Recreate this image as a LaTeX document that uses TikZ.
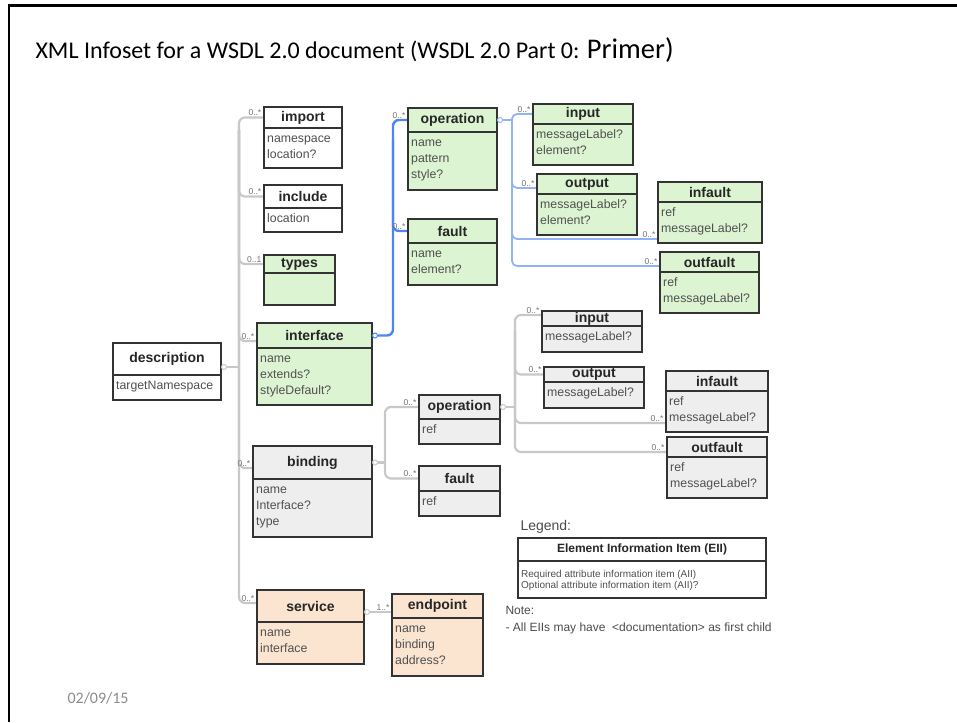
\documentclass[tikz,border=0pt]{standalone}
\usepackage{fontspec}
\setmainfont{Liberation Sans}
\newfontfamily\calib{Carlito}
\usetikzlibrary{calc}
\definecolor{grn}{HTML}{DDF4D2}
\definecolor{gry}{HTML}{EEEEEE}
\definecolor{pch}{HTML}{FBE5D1}
\definecolor{conng}{HTML}{C8C8C8}
\definecolor{connb}{HTML}{4A86F5}
\definecolor{connlb}{HTML}{92B4F6}
\definecolor{edge}{HTML}{333333}
\definecolor{attrc}{HTML}{505050}
\pgfdeclarelayer{bg}
\pgfsetlayers{bg,main}
\tikzset{
 hbox/.style={draw=edge, line width=1.1pt, inner sep=0pt, outer sep=0pt, font=\fontsize{14}{15}\selectfont\bfseries, text=black!85},
 bbox/.style={draw=edge, line width=1.1pt, inner sep=0pt, outer sep=0pt},
 attr/.style={inner xsep=3pt, inner ysep=3.5pt, align=left, font=\fontsize{12.3}{16}\selectfont, text=attrc},
 mult/.style={inner sep=0.5pt, font=\fontsize{8.5}{9}\selectfont, text=black!55},
 gline/.style={draw=conng, line width=2.2pt, rounded corners=6pt},
 bline/.style={draw=connb, line width=2.4pt, rounded corners=6pt},
 lbline/.style={draw=connlb, line width=1.8pt, rounded corners=5pt},
 ocirc/.style={circle, draw, fill=white, line width=1pt, inner sep=0pt, minimum size=5pt},
}
\newcommand{\ebox}[9]{%
 \node[hbox, fill=#7, minimum width=#4, minimum height={#5-#3}, anchor=north west] (#1) at (#2,#3) {#8};
 \node[bbox, fill=#7, minimum width=#4, minimum height={#6-#5}, anchor=north west] (#1b) at (#1.south west) {};
 \node[attr, anchor=north west] (#1t) at (#1b.north west) {\strut#9};
}
\begin{document}
\begin{tikzpicture}[x=1pt,y=-1pt]
\useasboundingbox (0,0) rectangle (957,722);
\begin{pgfonlayer}{bg}
\fill[white] (0,0) rectangle (957,722);
\end{pgfonlayer}
\draw[line width=2.5pt] (9,722) -- (9,5.5) -- (957,5.5);
\node[anchor=west, font=\calib\fontsize{24}{28}\selectfont] (title) at (32,50) {XML Infoset for a WSDL 2.0 document (WSDL 2.0 Part 0: {\fontsize{28.5}{32}\selectfont Primer)}};
\node[anchor=west, font=\calib\fontsize{16}{18}\selectfont, text=black!45] (date) at (64,698) {02/09/15};

% boxes
\ebox{imp}{264}{107}{78}{128}{168}{white}{import}{namespace\\location?}
\ebox{inc}{264}{185}{78}{208}{232}{white}{include}{location}
\ebox{typ}{264}{255}{71}{273}{305}{grn}{types}{}
\ebox{ifc}{257}{323}{115}{348}{405}{grn}{interface}{name\\extends?\\styleDefault?}
\ebox{desc}{113}{343}{108}{375}{400}{white}{description}{targetNamespace}
\ebox{bnd}{253}{446}{119}{479}{537}{gry}{binding}{name\\Interface?\\type}
\ebox{svc}{257}{590}{107}{622}{664}{pch}{service}{name\\interface}
\ebox{ept}{392}{594}{91}{618}{676}{pch}{endpoint}{name\\binding\\address?}
\ebox{opa}{408}{108}{89}{132}{190}{grn}{operation}{name\\pattern\\style?}
\ebox{fla}{408}{219}{89}{243}{285}{grn}{fault}{name\\element?}
\ebox{ina}{533}{104}{100}{124}{165}{grn}{input}{messageLabel?\\element?}
\ebox{outa}{537}{174}{100}{194}{235}{grn}{output}{messageLabel?\\element?}
\ebox{ifla}{658}{182}{104}{202}{243}{grn}{infault}{ref\\messageLabel?}
\ebox{ofla}{660}{252}{99}{272}{313}{grn}{outfault}{ref\\messageLabel?}
\ebox{opb}{419}{395}{81}{419}{444}{gry}{operation}{ref}
\ebox{flb}{419}{466}{81}{491}{516}{gry}{fault}{ref}
\ebox{inb}{542}{311}{100}{326}{352}{gry}{input}{messageLabel?}
\ebox{outb}{544}{367}{100}{382}{408}{gry}{output}{messageLabel?}
\ebox{iflb}{666}{371}{102}{391}{432}{gry}{infault}{ref\\messageLabel?}
\ebox{oflb}{667}{437}{100}{457}{498}{gry}{outfault}{ref\\messageLabel?}

% legend
\node[anchor=west, font=\fontsize{14}{16}\selectfont, text=black!70] (lgl) at (517,527) {Legend:};
\node[hbox, fill=white, minimum width=248, minimum height=23, anchor=north west, font=\fontsize{12}{14}\selectfont\bfseries] (lgh) at (518,538) {Element Information Item (EII)};
\node[bbox, fill=white, minimum width=248, minimum height=37, anchor=north west] (lgb) at (lgh.south west) {};
\node[attr, anchor=north west, font=\fontsize{10}{11}\selectfont, inner ysep=3pt] (lgt) at ([yshift=-6pt]lgb.north west) {\strut Required attribute information item (AII)\\Optional attribute information item (AII)?};
\node[anchor=west, font=\fontsize{12}{14}\selectfont, text=black!70] (note) at (502,610) {Note:};
\node[anchor=west, font=\fontsize{12}{14}\selectfont, text=black!70] (note2) at (502,628) {- All EIIs may have\ \ <documentation> as first child};

% circles
\node[ocirc, draw=conng] (dc) at ([xshift=3pt,yshift=-8pt]desc.east) {};
\node[ocirc, draw=connb] (ic) at ([xshift=3pt]ifc.east) {};
\node[ocirc, draw=connlb] (oc1) at ([xshift=3pt]opa.east) {};
\node[ocirc, draw=conng] (bc) at ([xshift=3pt]bnd.east) {};
\node[ocirc, draw=conng] (pc) at ([xshift=3pt]opb.east) {};
\node[ocirc, draw=conng] (sc) at ([xshift=3pt,yshift=-6pt]svc.east) {};

% coordinates
\coordinate (gx) at (239,0);
\coordinate (g0) at (239,130);
\coordinate (svcp) at ([yshift=3pt]svc.west);
\coordinate (ifcp) at ([yshift=-5.5pt]ifc.west);
\coordinate (bndp) at ([yshift=-5.5pt]bnd.west);
\coordinate (bx) at (393,0);
\coordinate (b0) at (393,140);
\coordinate (lx) at (512,0);
\coordinate (l0) at (512,125);
\coordinate (outap) at ([yshift=-4pt]outa.west);
\coordinate (iflap) at ([yshift=4pt]iflab.south west);
\coordinate (oflap) at ([yshift=-4pt]ofla.west);
\coordinate (hx) at (385,0);
\coordinate (px) at (515,0);
\coordinate (p0) at (515,330);
\coordinate (inbp) at ([yshift=3.5pt]inb.west);
\coordinate (iflbp) at ([yshift=9pt]iflbb.south west);
\coordinate (oflbp) at ([yshift=-5pt]oflb.west);
\coordinate (eptp) at (ept.west |- sc.east);

\begin{pgfonlayer}{bg}
\draw[gline] (imp.west) -| (gx |- svcp) -- (svcp);
\draw[gline] (g0) |- (inc.west);
\draw[gline] (g0) |- (typ.west);
\draw[gline] (g0) |- (ifcp);
\draw[gline] (g0) |- (bndp);
\draw[gline] (dc.east) -- (gx |- dc.east);
\draw[bline] (ic.east) -| (bx |- opa.west) -- (opa.west);
\draw[bline] (b0) |- (fla.west);
\draw[lbline] (ina.west) -| (lx |- oflap) -- (oflap);
\draw[lbline] (oc1.east) -- (lx |- oc1.east);
\draw[lbline] (l0) |- (outap);
\draw[lbline] (l0) |- (iflap);
\draw[gline] (opb.west) -| (hx |- flb.west) -- (flb.west);
\draw[gline] (bc.east) -- (hx |- bc.east);
\draw[gline] (inbp) -| (px |- oflbp) -- (oflbp);
\draw[gline] (p0) |- (outb.west);
\draw[gline] (p0) |- (iflbp);
\draw[gline] (pc.east) -- (px |- pc.east);
\draw[gline] (sc.east) -- (eptp);
\end{pgfonlayer}

% multiplicities
\node[mult, anchor=south east] (m1) at ([xshift=-2pt,yshift=1pt]imp.west) {0..*};
\node[mult, anchor=south east] (m2) at ([xshift=-2pt,yshift=1pt]inc.west) {0..*};
\node[mult, anchor=south east] (m3) at ([xshift=-2pt,yshift=1pt]typ.west) {0..1};
\node[mult, anchor=south east] (m4) at ([xshift=-2pt,yshift=1pt]ifcp) {0..*};
\node[mult, anchor=south east] (m5) at ([xshift=-2pt,yshift=1pt]bndp) {0..*};
\node[mult, anchor=south east] (m6) at ([xshift=-2pt,yshift=1pt]svcp) {0..*};
\node[mult, anchor=south east] (m7) at ([xshift=-2pt,yshift=1pt]eptp) {1..*};
\node[mult, anchor=south east] (m8) at ([xshift=-2pt,yshift=1pt]opa.west) {0..*};
\node[mult, anchor=south east] (m9) at ([xshift=-2pt,yshift=1pt]fla.west) {0..*};
\node[mult, anchor=south east] (m10) at ([xshift=-2pt,yshift=1pt]ina.west) {0..*};
\node[mult, anchor=south east] (m11) at ([xshift=-2pt,yshift=1pt]outap) {0..*};
\node[mult, anchor=south east] (m12) at ([xshift=-2pt,yshift=1pt]iflap) {0..*};
\node[mult, anchor=south east] (m13) at ([xshift=-2pt,yshift=1pt]oflap) {0..*};
\node[mult, anchor=south east] (m14) at ([xshift=-2pt,yshift=1pt]opb.west) {0..*};
\node[mult, anchor=south east] (m15) at ([xshift=-2pt,yshift=1pt]flb.west) {0..*};
\node[mult, anchor=south east] (m16) at ([xshift=-2pt,yshift=1pt]inbp) {0..*};
\node[mult, anchor=south east] (m17) at ([xshift=-2pt,yshift=1pt]outb.west) {0..*};
\node[mult, anchor=south east] (m18) at ([xshift=-2pt,yshift=1pt]iflbp) {0..*};
\node[mult, anchor=south east] (m19) at ([xshift=-2pt,yshift=1pt]oflbp) {0..*};
\end{tikzpicture}
\end{document}
